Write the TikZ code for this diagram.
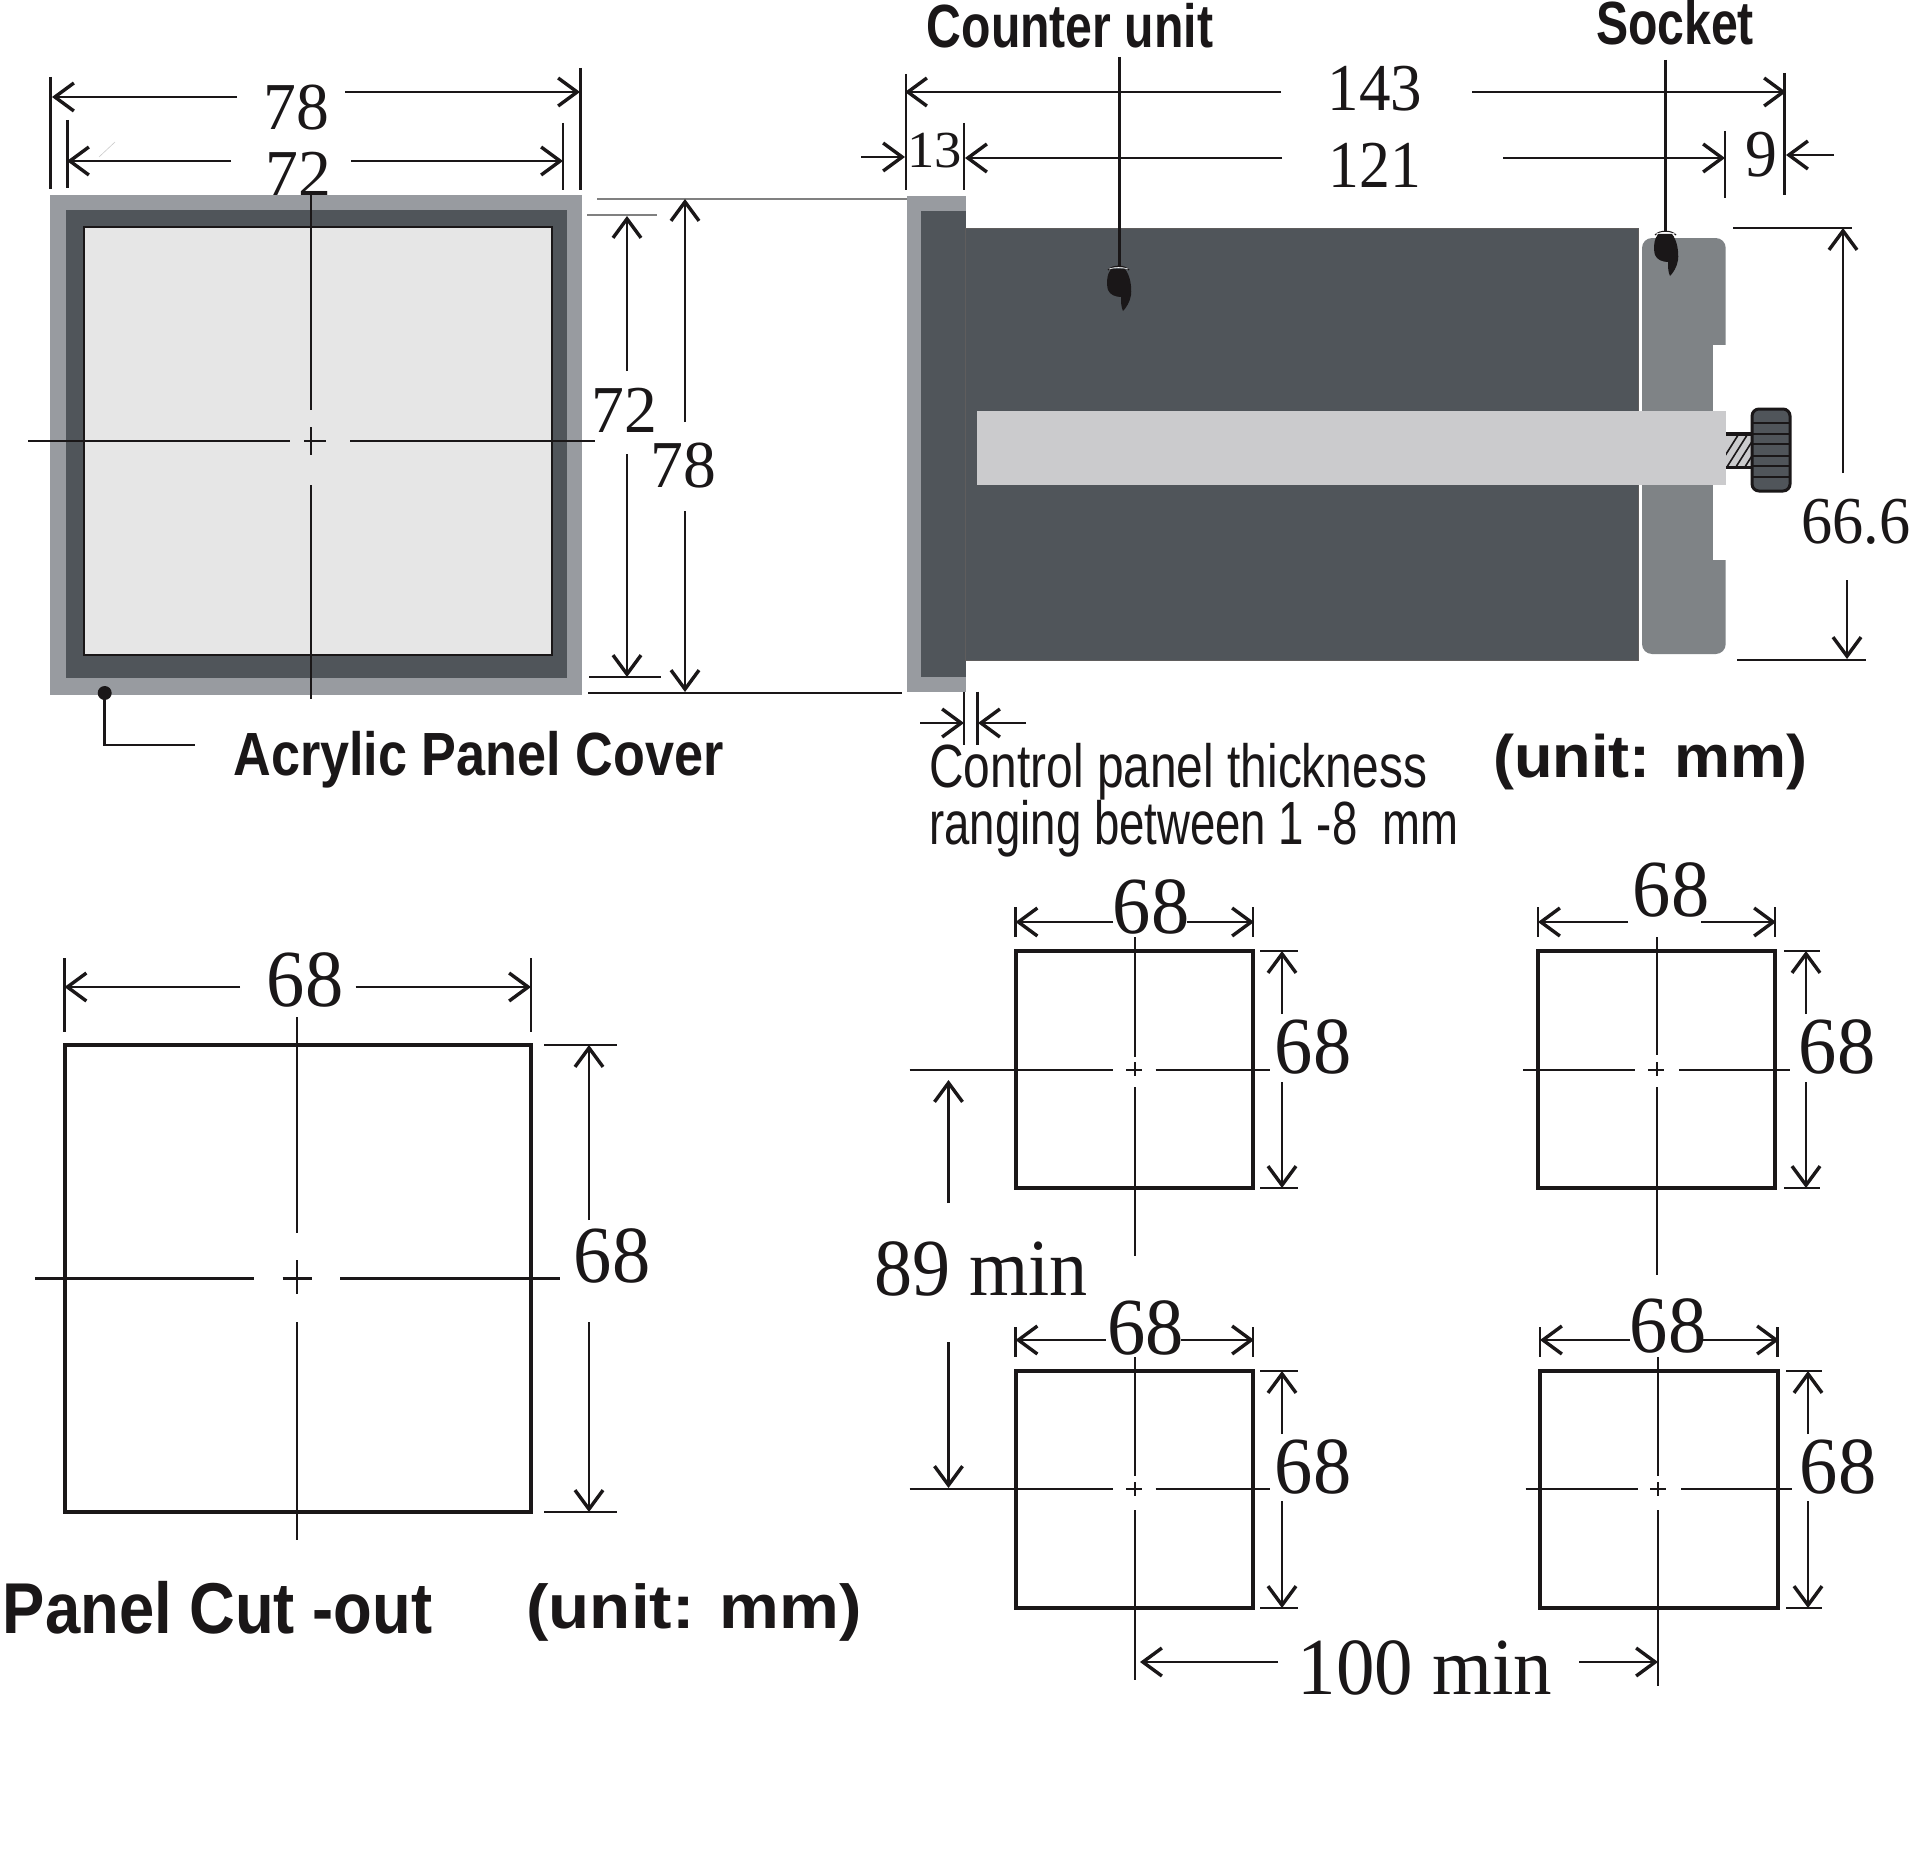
\documentclass[tikz,border=0pt]{standalone}
\usepackage{fontspec}
\usepackage{graphicx}
\setmainfont{Liberation Serif}
\setsansfont{Liberation Sans}
\usetikzlibrary{arrows.meta}
\definecolor{panelgray}{HTML}{989BA0}
\definecolor{darkbody}{HTML}{50555A}
\definecolor{sockgray}{HTML}{7F8386}
\definecolor{barlight}{HTML}{CBCBCD}
\definecolor{screenlight}{HTML}{E6E6E6}
\definecolor{inkblack}{HTML}{1A1718}
\newcommand{\SX}[2]{\scalebox{#1}[1]{#2}}
\newcommand{\handat}[2]{%
  \begin{scope}[shift={(#1,#2)}]
    \fill[inkblack] (4,4) -- (18,4) .. controls (23,10) and (25,22) .. (24,30) .. controls (23,37) and (19,43) .. (16,46) .. controls (14,42) and (14,37) .. (14,32) .. controls (9,32) and (3,30) .. (1,25) .. controls (-1,18) and (0,9) .. (4,4) -- cycle;
    \draw[inkblack,line width=.6pt] (1,5) .. controls (6,0) and (17,0) .. (22,5);
    \draw[white,line width=.3pt] (2,4) .. controls (7,2) and (16,2) .. (21,4);
  \end{scope}}
\tikzset{
  x=.5pt,y=-.5pt,
  >={Straight Barb[length=9.5pt,width=14pt,line width=1.7pt]},
  ln/.style={line width=1.3pt,draw=inkblack},
  dm/.style={line width=1.4pt,draw=inkblack},
  cl/.style={line width=1.25pt,draw=inkblack},
  cut/.style={line width=2pt,draw=inkblack},
  num/.style={inner sep=0pt,text=inkblack,font=\fontsize{#1}{#1}\selectfont},
  sanslab/.style={inner sep=0pt,text=inkblack,font=\fontsize{#1}{#1}\selectfont\sffamily},
  boldlab/.style={inner sep=0pt,text=inkblack,font=\fontsize{#1}{#1}\selectfont\sffamily\bfseries},
}
\begin{document}
\begin{tikzpicture}
\useasboundingbox (0,0) rectangle (1909,1851);
\fill[white] (0,0) rectangle (1909,1851);

% ---------- front view, dimensions that pass behind it
\draw[ln] (50.5,77) -- (50.5,189);
\draw[ln] (580.5,68) -- (580.5,190);
\draw[ln] (67.5,120) -- (67.5,188);
\draw[ln] (563,123) -- (563,190);
\draw[dm,->] (237,97) -- (52,97);
\draw[dm,->] (345,92) -- (580,92);
\draw[dm,->] (231,161) -- (67,161);
\draw[dm,->] (351,161) -- (563,161);
\draw[gray!40,line width=.3pt] (99,157) -- (115,142);
\node[num=33.5] (l78a) at (296,108) {\SX{.98}{78}};
\node[num=33.5] (l72a) at (298,174) {\SX{.98}{72}};

% ---------- front view
\fill[panelgray] (49.5,195) rectangle (582,695);
\fill[darkbody] (66,210) rectangle (567,678);
\fill[screenlight,draw=inkblack,line width=1.4pt] (84,227) rectangle (552,655);
\draw[cl] (311,192) -- (311,410);
\draw[cl] (311,427) -- (311,455);
\draw[cl] (311,485) -- (311,699);
\draw[cl] (28,441) -- (290,441);
\draw[cl] (304,441) -- (326,441);
\draw[cl] (350,441) -- (595,441);

% ---------- front view, height dimensions
\draw[gray,line width=.8pt] (597,199) -- (907,199);
\draw[gray,line width=.8pt] (587,215) -- (657,215);
\draw[ln] (589,677) -- (661,677);
\draw[ln] (588,693) -- (902,693);
\draw[dm,->] (627,371) -- (627,216);
\draw[dm,->] (627,454) -- (627,677);
\draw[dm,->] (685,422) -- (685,199);
\draw[dm,->] (685,511) -- (685,692);
\node[num=33.5] (l72b) at (624,410) {\SX{.98}{72}};
\node[num=33.5] (l78b) at (683,466) {\SX{.98}{78}};

% ---------- acrylic cover
\fill[inkblack] (104.7,693) circle (3.5pt);
\draw[ln] (104.7,693) -- (104.7,745) -- (195,745);
\node[boldlab=30.5] (acr) at (478.5,760) {\SX{.855}{Acrylic Panel Cover}};

% ---------- side view
\fill[panelgray] (907,196) rectangle (966,692);
\fill[darkbody] (921,211) rectangle (966,677);
\fill[darkbody,draw=inkblack!70,line width=.4pt] (965,228) rectangle (1638.5,660);
\fill[sockgray,rounded corners=5pt] (1642,238) rectangle (1725.7,654);
\fill[white] (1713,345) rectangle (1727,560);
\fill[barlight] (976.5,411) rectangle (1726,485);
% screw
\fill[barlight] (1726,435) rectangle (1752,467);
\begin{scope}
  \clip (1726,435) rectangle (1752,467);
  \foreach \k in {0,9,...,72} \draw[inkblack,line width=.8pt] (1716+\k,470) -- (1716+\k+24,432);
\end{scope}
\draw[inkblack,line width=1.6pt] (1726,434) -- (1752,434) (1726,467.5) -- (1752,467.5);
\fill[darkbody,draw=inkblack,line width=1.5pt,rounded corners=3.5pt] (1752,409) rectangle (1790,491);
\foreach \yy in {423,434,444,456,466,477} \draw[inkblack,line width=.6pt] (1752,\yy) -- (1790,\yy);

% ---------- side view, top dimensions
\draw[ln] (906,74) -- (906,190);
\draw[ln] (1784.5,73) -- (1784.5,195);
\draw[ln] (964,123) -- (964,190);
\draw[ln] (1725,131) -- (1725,198);
\draw[dm,->] (1281,92) -- (905,92);
\draw[dm,->] (1472,92) -- (1786,92);
\draw[dm,->] (1282,158) -- (965,158);
\draw[dm,->] (1503,158) -- (1725,158);
\draw[dm,->] (861,157) -- (905,157);
\draw[dm,->] (1834,155) -- (1786,155);
\node[num=33.5] (l143) at (1375,89) {\SX{.94}{143}};
\node[num=33.5] (l121) at (1375,165) {\SX{.92}{121}};
\node[num=26] (l13) at (934.5,151) {\SX{1.05}{13}};
\node[num=33.5] (l9) at (1761,155) {\SX{.95}{9}};

% ---------- side view, leaders
\node[boldlab=30.5] (cu) at (1070,25.5) {\SX{.79}{Counter unit}};
\node[boldlab=30.5] (so) at (1675,23) {\SX{.79}{Socket}};
\draw[ln] (1119.6,57) -- (1119.6,267);
\draw[ln] (1665.5,60) -- (1665.5,232);
\handat{1107}{265}
\handat{1654}{230}

% ---------- 66.6
\draw[ln] (1733,228) -- (1852,228);
\draw[ln] (1737,660) -- (1866,660);
\draw[dm,->] (1843,473) -- (1843,228);
\draw[dm,->] (1847,580) -- (1847,659);
\node[num=33.5,anchor=west] (l666) at (1801,522) {\SX{.93}{66.6}};

% ---------- panel thickness
\draw[ln] (964,691.5) -- (964,745);
\draw[ln] (977.5,691.5) -- (977.5,745);
\draw[dm,->] (920,723) -- (964,723);
\draw[dm,->] (1026,723) -- (978,723);
\node[sanslab=30.5,anchor=west] (cp1) at (929,772) {\SX{.785}{Control panel thickness}};
\node[sanslab=30.5,anchor=west] (cp2) at (929,829) {\SX{.747}{ranging between 1 -8 ~mm}};
\node[boldlab=30,anchor=west] (un1) at (1493,762) {\SX{1.05}{(unit: mm)}};

% ---------- large cut-out
\draw[cut] (64.5,1045) rectangle (531,1512);
\draw[ln] (64.5,958) -- (64.5,1032);
\draw[ln] (531,958) -- (531,1032);
\draw[dm,->] (240,987) -- (64.5,987);
\draw[dm,->] (355.5,987) -- (531,987);
\node[num=40.5] (lc1) at (305,980) {\SX{.945}{68}};
\draw[ln] (544,1045) -- (617,1045);
\draw[ln] (544,1512) -- (617,1512);
\draw[dm,->] (589,1220) -- (589,1045);
\draw[dm,->] (589,1322) -- (589,1512);
\node[num=40.5] (lc2) at (612,1256) {\SX{.945}{68}};
\draw[cl] (297,1017) -- (297,1233);
\draw[cl] (297,1260) -- (297,1294);
\draw[cl] (297,1322) -- (297,1540);
\draw[cl] (35,1278.5) -- (254,1278.5);
\draw[cl] (282.5,1278.5) -- (312,1278.5);
\draw[cl] (340,1278.5) -- (560,1278.5);
\node[boldlab=36,anchor=west] (pc) at (2.4,1608) {\SX{.88}{Panel Cut -out}};
\node[boldlab=31,anchor=west] (un2) at (526,1612) {\SX{1.085}{(unit: mm)}};

% ---------- four cut-outs
\draw[cut] (1015.5,951) rectangle (1253,1188);
\draw[cut] (1538,951) rectangle (1775,1188);
\draw[cut] (1015.5,1371) rectangle (1253,1608);
\draw[cut] (1540,1371) rectangle (1777.5,1608);

% top-left
\draw[ln] (1015.5,907) -- (1015.5,937);
\draw[ln] (1253,907) -- (1253,937);
\draw[dm,->] (1113,922) -- (1015.5,922);
\draw[dm,->] (1187,922) -- (1254,922);
\draw[cl] (1135,937) -- (1135,1057);
\draw[cl] (1135,1062) -- (1135,1076);
\draw[cl] (1135,1087) -- (1135,1256);
\draw[cl] (909.5,1070) -- (1113,1070);
\draw[cl] (1126,1070) -- (1142,1070);
\draw[cl] (1155.5,1070) -- (1270,1070);
\draw[ln] (1260,951) -- (1298,951);
\draw[ln] (1260,1188) -- (1298,1188);
\draw[dm,->] (1282,1014) -- (1282,951);
\draw[dm,->] (1282,1082) -- (1282,1188);
\node[num=40.5] (tl1) at (1151,907) {\SX{.945}{68}};
\node[num=40.5] (tl2) at (1313,1047) {\SX{.945}{68}};

% top-right
\draw[ln] (1538,907) -- (1538,937);
\draw[ln] (1775,907) -- (1775,937);
\draw[dm,->] (1628,922) -- (1538,922);
\draw[dm,->] (1701,922) -- (1776,922);
\draw[cl] (1657,937) -- (1657,1055);
\draw[cl] (1657,1062) -- (1657,1076);
\draw[cl] (1657,1087) -- (1657,1275);
\draw[cl] (1523,1070) -- (1635,1070);
\draw[cl] (1648,1070) -- (1664,1070);
\draw[cl] (1679,1070) -- (1790,1070);
\draw[ln] (1784,951) -- (1820,951);
\draw[ln] (1784,1188) -- (1820,1188);
\draw[dm,->] (1806,1014) -- (1806,951);
\draw[dm,->] (1806,1082) -- (1806,1188);
\node[num=40.5] (tr1) at (1671,890) {\SX{.945}{68}};
\node[num=40.5] (tr2) at (1837,1047) {\SX{.945}{68}};

% bottom-left
\draw[ln] (1015.5,1327) -- (1015.5,1357);
\draw[ln] (1253,1327) -- (1253,1357);
\draw[dm,->] (1105.5,1340) -- (1015.5,1340);
\draw[dm,->] (1181,1340) -- (1254,1340);
\draw[cl] (1135,1357) -- (1135,1476);
\draw[cl] (1135,1482) -- (1135,1496);
\draw[cl] (1135,1510) -- (1135,1680);
\draw[cl] (909.5,1489) -- (1113,1489);
\draw[cl] (1126,1489) -- (1142,1489);
\draw[cl] (1155.5,1489) -- (1270,1489);
\draw[ln] (1260,1371) -- (1298,1371);
\draw[ln] (1260,1608) -- (1298,1608);
\draw[dm,->] (1282,1434) -- (1282,1371);
\draw[dm,->] (1282,1501) -- (1282,1608);
\node[num=40.5] (bl1) at (1145.5,1328) {\SX{.945}{68}};
\node[num=40.5] (bl2) at (1313,1467) {\SX{.945}{68}};

% bottom-right
\draw[ln] (1540,1327) -- (1540,1357);
\draw[ln] (1777.5,1327) -- (1777.5,1357);
\draw[dm,->] (1630,1340) -- (1540,1340);
\draw[dm,->] (1703,1340) -- (1779,1340);
\draw[cl] (1658,1357) -- (1658,1476);
\draw[cl] (1658,1482) -- (1658,1496);
\draw[cl] (1658,1510) -- (1658,1686);
\draw[cl] (1525.5,1489) -- (1637.5,1489);
\draw[cl] (1650,1489) -- (1666,1489);
\draw[cl] (1681,1489) -- (1792,1489);
\draw[ln] (1786,1371) -- (1822,1371);
\draw[ln] (1786,1608) -- (1822,1608);
\draw[dm,->] (1808,1434) -- (1808,1371);
\draw[dm,->] (1808,1501) -- (1808,1608);
\node[num=40.5] (br1) at (1668,1326) {\SX{.945}{68}};
\node[num=40.5] (br2) at (1838,1467) {\SX{.945}{68}};

% 89 min / 100 min
\draw[dm,->] (948.5,1203) -- (948.5,1080);
\draw[dm,->] (948.5,1342) -- (948.5,1488);
\node[num=40.5] (m89) at (981,1269) {\SX{.94}{89 min}};
\draw[dm,->] (1278,1662) -- (1140,1662);
\draw[dm,->] (1579,1662) -- (1658,1662);
\node[num=40.5] (m100) at (1425,1668) {\SX{.95}{100 min}};
\end{tikzpicture}
\end{document}
